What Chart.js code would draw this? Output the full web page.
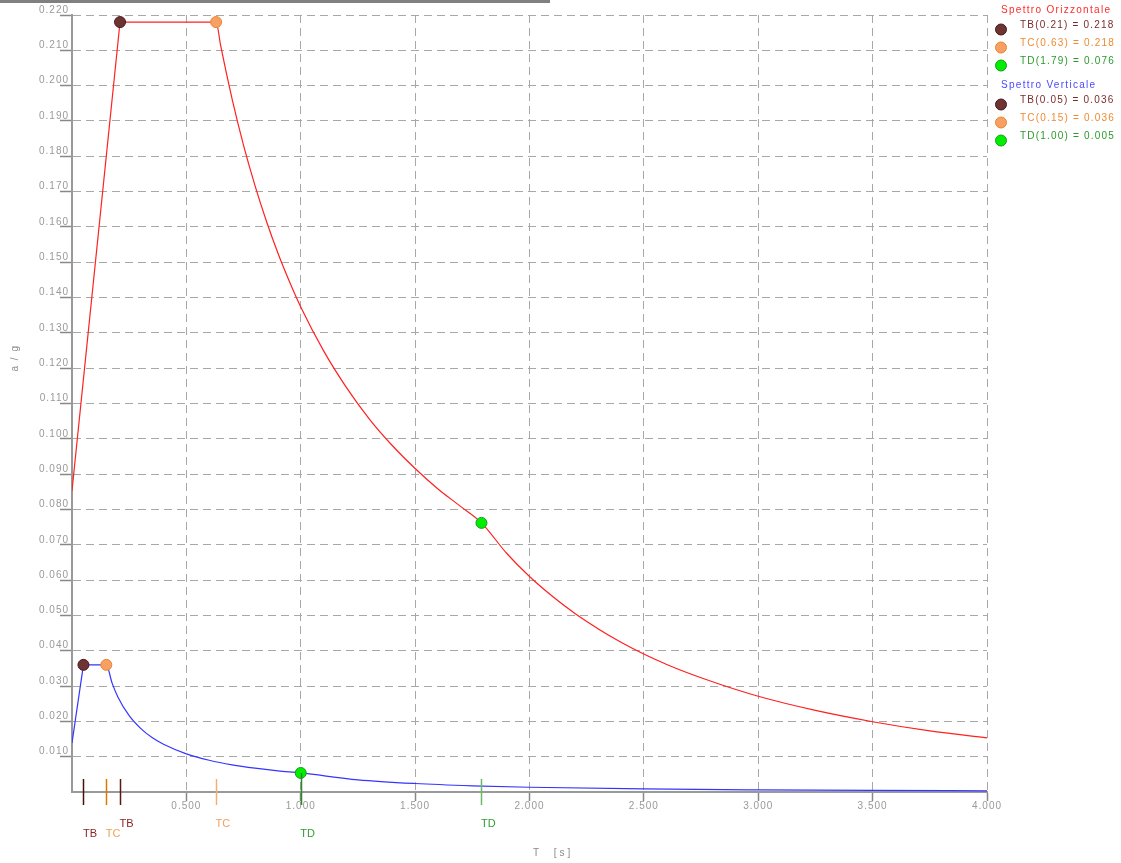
<!DOCTYPE html>
<html>
<head>
<meta charset="utf-8">
<script src="https://cdn.jsdelivr.net/npm/chart.js@4.4.1/dist/chart.umd.min.js"></script>
<style>
  html, body { margin: 0; padding: 0; background: #ffffff; }
  #wrap { position: relative; width: 1121px; height: 863px; }
  #topbar { position: absolute; left: 0; top: 0; width: 550px; height: 3px; background: #808080; }
  canvas { position: absolute; left: 0; top: 0; }
</style>
</head>
<body>
<div id="wrap">
  <canvas id="c" width="1121" height="863"></canvas>
  <div id="topbar"></div>
</div>
<script>
// ---- Data ----
// Horizontal spectrum (Spettro Orizzontale)
const hT = [0, 0.21, 0.63, 0.65, 0.70, 0.75, 0.80, 0.85, 0.90, 0.95, 1.00, 1.10, 1.20, 1.30, 1.40, 1.50, 1.60, 1.70, 1.79,
            1.90, 2.00, 2.10, 2.20, 2.40, 2.60, 2.80, 3.00, 3.25, 3.50, 3.75, 4.00];
const hA = [0.0853, 0.218, 0.218, 0.2113, 0.1962, 0.1831, 0.1717, 0.1616, 0.1526, 0.1446, 0.1373, 0.1249, 0.1145, 0.1056,
            0.0981, 0.0916, 0.0858, 0.0808, 0.0762, 0.0676, 0.0610, 0.0554, 0.0505, 0.0424, 0.0361, 0.0312, 0.0271,
            0.0231, 0.0199, 0.0173, 0.0153];
// Vertical spectrum (Spettro Verticale)
const vT = [0, 0.05, 0.15, 0.175, 0.20, 0.25, 0.30, 0.35, 0.40, 0.50, 0.60, 0.70, 0.80, 0.90, 1.00,
            1.25, 1.50, 1.75, 2.00, 2.50, 3.00, 3.50, 4.00];
const vA = [0.0139, 0.036, 0.036, 0.0309, 0.0270, 0.0216, 0.0180, 0.0154, 0.0135, 0.0108, 0.0090, 0.0077, 0.00675,
            0.0060, 0.0054, 0.00346, 0.0024, 0.00176, 0.00135, 0.00086, 0.0006, 0.00044, 0.00034];
// Characteristic periods and values
const hNames = ['TB', 'TC', 'TD'];
const hPeriods = [0.21, 0.63, 1.79];
const hValues = [0.218, 0.218, 0.0762];
const hLegend = ['TB(0.21) = 0.218', 'TC(0.63) = 0.218', 'TD(1.79) = 0.076'];
const vNames = ['TB', 'TC', 'TD'];
const vPeriods = [0.05, 0.15, 1.00];
const vValues = [0.036, 0.036, 0.0054];
const vLegend = ['TB(0.05) = 0.036', 'TC(0.15) = 0.036', 'TD(1.00) = 0.005'];
const legendTitles = ['Spettro Orizzontale', 'Spettro Verticale'];
const xTitle = 'T  [s]';
const yTitle = 'a / g';

// ---- Styles ----
const markerFill = ['#6e3434', '#f8a064', '#00ee00'];
const markerBorder = ['#4a1818', '#e8862e', '#1e9a1e'];
const legendTextColor = ['#7b2b2b', '#f08a30', '#2a9a2a'];
const hTickColor = ['#5a1515', '#f0b070', '#66bb66'];
const vTickColor = ['#4a0f0f', '#e07800', '#2a8a2a'];
const labelColor = { h: ['#8b2525', '#f0a060', '#2e9e2e'], v: ['#8b2525', '#f0a050', '#2e9e2e'] };

const pts = (xs, ys) => xs.map((x, i) => ({ x: x, y: ys[i] }));

const markerSets = [];
[[hPeriods, hValues], [vPeriods, vValues]].forEach(([ps, vs]) => {
  ps.forEach((p, i) => {
    markerSets.push({
      type: 'scatter',
      data: [{ x: p, y: vs[i] }],
      pointRadius: 5.5,
      pointHoverRadius: 5.5,
      pointBackgroundColor: markerFill[i],
      pointBorderColor: markerBorder[i],
      pointBorderWidth: 1,
      showLine: false
    });
  });
});

function curve(xs, ys, color, smooth) {
  return {
    data: pts(xs, ys),
    borderColor: color,
    borderWidth: 1.2,
    pointRadius: 0,
    tension: smooth ? 0.4 : 0,
    cubicInterpolationMode: smooth ? 'monotone' : 'default',
    fill: false
  };
}

const overlay = {
  id: 'overlay',
  beforeDraw(chart) {
    chart.ctx.letterSpacing = '1px';
  },
  afterDraw(chart) {
    const ctx = chart.ctx;
    const xs = chart.scales.x, ys = chart.scales.y;
    const axisY = ys.getPixelForValue(0);
    ctx.save();
    ctx.letterSpacing = '0px';
    // period tick lines
    const drawLines = (periods, colors, fromY) => {
      periods.forEach((p, i) => {
        const x = Math.round(xs.getPixelForValue(p)) + 0.5;
        ctx.strokeStyle = colors[i];
        ctx.lineWidth = 1.5;
        ctx.beginPath();
        ctx.moveTo(x, fromY[i]);
        ctx.lineTo(x, axisY + 13);
        ctx.stroke();
      });
    };
    drawLines(hPeriods, hTickColor, [axisY - 13, axisY - 13, axisY - 13]);
    drawLines(vPeriods, vTickColor, [axisY - 13, axisY - 13, ys.getPixelForValue(vValues[2])]);
    // period labels
    ctx.font = '11px "Liberation Sans", Arial, sans-serif';
    ctx.textAlign = 'left';
    ctx.textBaseline = 'middle';
    hPeriods.forEach((p, i) => {
      ctx.fillStyle = labelColor.h[i];
      ctx.fillText(hNames[i], xs.getPixelForValue(p) - 0.5, axisY + 32);
    });
    vPeriods.forEach((p, i) => {
      ctx.fillStyle = labelColor.v[i];
      ctx.fillText(vNames[i], xs.getPixelForValue(p) - 0.5, axisY + 42);
    });
    // axis titles
    ctx.font = '10px "Liberation Sans", Arial, sans-serif';
    ctx.fillStyle = '#8a8a8a';
    ctx.letterSpacing = '3px';
    ctx.fillText(xTitle, 533, 853);
    ctx.save();
    ctx.translate(15, 358);
    ctx.rotate(-Math.PI / 2);
    ctx.textAlign = 'center';
    ctx.letterSpacing = '1.5px';
    ctx.fillText(yTitle, 0, 0);
    ctx.restore();
    // legend
    const groups = [
      { title: legendTitles[0], color: '#ff2a2a', items: hLegend, y: 10 },
      { title: legendTitles[1], color: '#4a4aff', items: vLegend, y: 85 }
    ];
    groups.forEach(g => {
      ctx.font = '10px "Liberation Sans", Arial, sans-serif';
      ctx.letterSpacing = '1.3px';
      ctx.fillStyle = g.color;
      ctx.fillText(g.title, 1001, g.y);
      g.items.forEach((t, i) => {
        const ty = g.y + 15 + i * 18;
        ctx.letterSpacing = '1.2px';
        ctx.fillStyle = legendTextColor[i];
        ctx.fillText(t, 1020, ty);
        ctx.beginPath();
        ctx.arc(1001, ty + 4.5, 5.5, 0, Math.PI * 2);
        ctx.fillStyle = markerFill[i];
        ctx.fill();
        ctx.lineWidth = 1;
        ctx.strokeStyle = markerBorder[i];
        ctx.stroke();
      });
    });
    ctx.restore();
  }
};

const tickFont = { family: '"Liberation Sans", Arial, sans-serif', size: 10 };
const tickCol = c => (c.tick && Math.abs(c.tick.value) < 1e-9 ? 'rgba(0,0,0,0)' : '#888888');

new Chart(document.getElementById('c'), {
  type: 'line',
  data: {
    datasets: markerSets.concat([
      curve(hT.slice(0, 2), hA.slice(0, 2), '#ff2020', false),
      curve(hT.slice(1), hA.slice(1), '#ff2020', true),
      curve(vT.slice(0, 2), vA.slice(0, 2), '#3535ff', false),
      curve(vT.slice(1), vA.slice(1), '#3535ff', true)
    ])
  },
  options: {
    responsive: false,
    devicePixelRatio: 1,
    animation: false,
    events: [],
    layout: { padding: { top: 15, right: 134, left: 0, bottom: 0 } },
    plugins: { legend: { display: false }, tooltip: { enabled: false }, title: { display: false } },
    scales: {
      x: {
        type: 'linear',
        min: 0, max: 4,
        afterFit(s) { s.height = 71; },
        ticks: {
          stepSize: 0.5,
          color: '#999999',
          font: tickFont,
          padding: -1,
          maxRotation: 0,
          autoSkip: false,
          callback: v => (v === 0 ? '' : Number(v).toFixed(3))
        },
        grid: { color: '#a8a8a8', lineWidth: 1, tickLength: 9, tickColor: tickCol, tickWidth: 1.5, tickBorderDash: [] },
        border: { display: true, color: '#999999', width: 2, dash: [8, 5] }
      },
      y: {
        type: 'linear',
        min: 0, max: 0.22,
        afterFit(s) { s.width = 72; },
        ticks: {
          stepSize: 0.01,
          color: '#999999',
          font: tickFont,
          padding: -9,
          labelOffset: -5,
          autoSkip: false,
          callback: v => (Math.abs(v) < 1e-9 ? '' : Number(v).toFixed(3))
        },
        grid: { color: '#a8a8a8', lineWidth: 1, tickLength: 12, tickColor: tickCol, tickWidth: 1.5, tickBorderDash: [] },
        border: { display: true, color: '#999999', width: 2, dash: [8, 5] }
      }
    }
  },
  plugins: [overlay]
});
</script>
</body>
</html>
